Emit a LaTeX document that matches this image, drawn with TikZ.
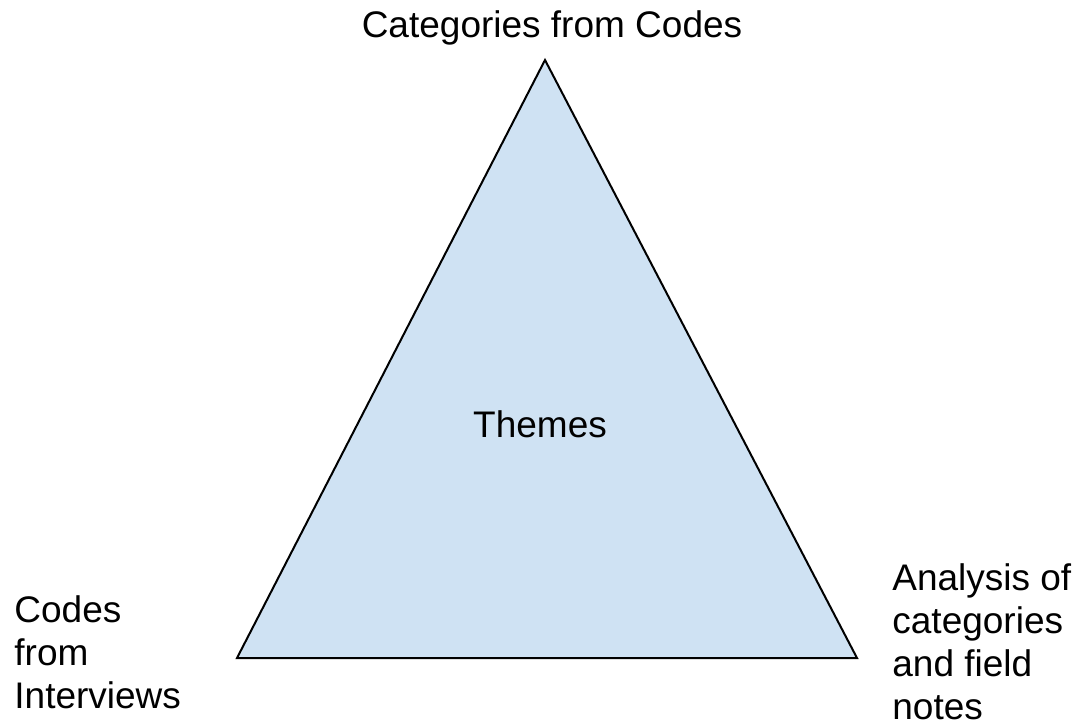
\documentclass[tikz,border=0pt]{standalone}
\usepackage{fontspec}
\setmainfont{Liberation Sans}
\usetikzlibrary{positioning}
\definecolor{themefill}{HTML}{CFE2F3}
\tikzset{
    label/.style={inner sep=0pt, font=\fontsize{18.5pt}{21.5pt}\selectfont, align=left},
    corner/.style={inner sep=0pt, minimum size=0pt}
}

\begin{document}
\begin{tikzpicture}[x=0.5pt, y=-0.5pt]
    \useasboundingbox (0,0) rectangle (1080,723);

    % corners of the triangle
    \coordinate (top) at (545,60);
    \coordinate (left) at (237,658);
    \coordinate (right) at (857,658);

    \draw[fill=themefill, line width=1pt, line join=miter] (top) -- (left) -- (right) -- cycle;

    % labels (base of a multi-line node is its last line)
    \node[label, anchor=base] (themes) at (540,437) {Themes};
    \node[label, anchor=base] (cats) at (552,37) {Categories from Codes};
    \node[label, anchor=base west] (codes) at (14,708) {Codes\\from\\Interviews};
    \node[label, anchor=base west] (analysis) at (892,719) {Analysis of\\categories\\and field\\notes};
\end{tikzpicture}
\end{document}
